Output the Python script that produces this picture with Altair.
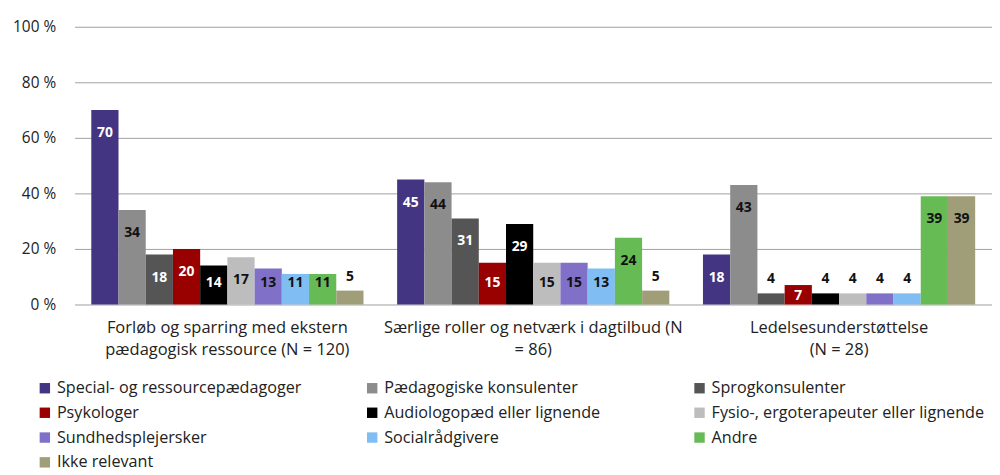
import altair as alt
import pandas as pd

categories = [
    "Forløb og sparring med ekstern\npædagogisk ressource (N = 120)",
    "Særlige roller og netværk i dagtilbud (N\n= 86)",
    "Ledelsesunderstøttelse\n(N = 28)",
]
series = [
    "Special- og ressourcepædagoger",
    "Pædagogiske konsulenter",
    "Sprogkonsulenter",
    "Psykologer",
    "Audiologopæd eller lignende",
    "Fysio-, ergoterapeuter eller lignende",
    "Sundhedsplejersker",
    "Socialrådgivere",
    "Andre",
    "Ikke relevant",
]
values = {
    "Special- og ressourcepædagoger": [70, 45, 18],
    "Pædagogiske konsulenter": [34, 44, 43],
    "Sprogkonsulenter": [18, 31, 4],
    "Psykologer": [20, 15, 7],
    "Audiologopæd eller lignende": [14, 29, 4],
    "Fysio-, ergoterapeuter eller lignende": [17, 15, 4],
    "Sundhedsplejersker": [13, 15, 4],
    "Socialrådgivere": [11, 13, 4],
    "Andre": [11, 24, 39],
    "Ikke relevant": [5, 5, 39],
}
colors = ["#433581", "#8c8c8c", "#555555", "#990000", "#000000",
          "#bdbdbd", "#8070c8", "#80bdf2", "#66bb55", "#a09e78"]
dark_series = ["Special- og ressourcepædagoger", "Sprogkonsulenter",
               "Psykologer", "Audiologopæd eller lignende"]

rows = []
for s in series:
    for c, v in zip(categories, values[s]):
        rows.append({"cat": c, "series": s, "v": v})
df = pd.DataFrame(rows)

FONT = "Open Sans"

x_enc = alt.X("cat:N", sort=categories, title=None,
              scale=alt.Scale(paddingInner=0.11, paddingOuter=0.055),
              axis=alt.Axis(labelExpr="split(datum.label, '\\n')", labelAngle=0,
                            domain=False, ticks=False, labelPadding=15,
                            labelFontSize=16.6, labelLineHeight=22, labelLimit=500,
                            labelColor="#222222", labelFont=FONT))
xo_enc = alt.XOffset("series:N", sort=series, scale=alt.Scale(paddingInner=0, paddingOuter=0))

bars = alt.Chart(df).mark_bar().encode(
    x=x_enc,
    xOffset=xo_enc,
    y=alt.Y("v:Q", title=None,
            scale=alt.Scale(domain=[0, 100]),
            axis=alt.Axis(values=[0, 20, 40, 60, 80, 100], labelExpr="datum.value + ' %'",
                          domain=False, ticks=False, labelPadding=19,
                          gridColor="#a0a0a0", gridWidth=1,
                          labelFontSize=15.5, labelColor="#222222", labelFont=FONT)),
    color=alt.Color("series:N", sort=series,
                    scale=alt.Scale(domain=series, range=colors),
                    legend=alt.Legend(title=None, orient="none", legendX=-38, legendY=356,
                                      direction="horizontal",
                                      columns=3, gridAlign="all", columnPadding=35,
                                      rowPadding=8, symbolType="square", symbolSize=110,
                                      symbolStrokeWidth=0, labelFontSize=16.3,
                                      labelFont=FONT, labelColor="#222222",
                                      labelLimit=400, symbolOpacity=1)),
)

dark_list = "[" + ",".join("'" + s + "'" for s in dark_series) + "]"
labels = alt.Chart(df).transform_calculate(
    ly="datum.v < 6 ? max(datum.v + 5, 7.9) : (datum.v < 10 ? datum.v * 0.42 : max(datum.v - 8.3, 7.9))",
    tc="datum.v >= 6 && indexof(" + dark_list + ", datum.series) >= 0 ? 'white' : '#111111'",
).mark_text(fontSize=14, fontWeight="bold", font="Open Sans", baseline="middle", align="center").encode(
    x=alt.X("cat:N", sort=categories),
    xOffset=alt.XOffset("series:N", sort=series),
    y=alt.Y("ly:Q"),
    text=alt.Text("v:Q"),
    color=alt.Color("tc:N", scale=None),
)

chart = alt.layer(bars, labels).properties(
    width=925, height=280,
    autosize=alt.AutoSizeParams(type="none"),
    padding={"left": 67, "top": 17, "right": 0, "bottom": 170},
).configure_view(stroke=None)

chart.save("out.html", embed_options={"renderer": "svg", "actions": False})
